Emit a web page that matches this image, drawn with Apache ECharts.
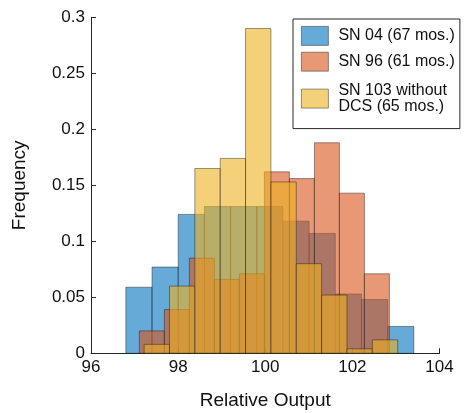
<!DOCTYPE html>
<html>
<head>
<meta charset="utf-8">
<script src="https://cdn.jsdelivr.net/npm/echarts@6/dist/echarts.min.js"></script>
<style>
  html, body { margin: 0; padding: 0; background: #fff; }
  #chart { width: 464px; height: 413px; }
</style>
</head>
<body>
<div id="chart"></div>
<script>
// bin layout for each histogram (first edge, bin width)
var seriesNames = ['SN 04 (67 mos.)', 'SN 96 (61 mos.)', 'SN 103 without\nDCS (65 mos.)'];
var sn04Start = 96.80, sn04Width = 0.601;
var sn96Start = 97.11, sn96Width = 0.574;
var sn103Start = 97.22, sn103Width = 0.582;

// frequencies
var sn04Values = [0.059, 0.077, 0.124, 0.131, 0.131, 0.131, 0.118, 0.107, 0.053, 0.048, 0.024];
var sn96Values = [0.020, 0.039, 0.085, 0.066, 0.071, 0.162, 0.156, 0.188, 0.143, 0.071];
var sn103Values = [0.008, 0.060, 0.165, 0.174, 0.290, 0.153, 0.080, 0.052, 0.004, 0.012];

var xTicks = [96, 98, 100, 102, 104];
var yTicks = [0, 0.05, 0.1, 0.15, 0.2, 0.25, 0.3];

var colors = ['rgba(0,114,189,0.6)', 'rgba(217,83,25,0.6)', 'rgba(237,177,32,0.6)'];
var edge = 'rgba(20,20,20,0.55)';
var font = 'Liberation Sans';

function toBins(start, width, vals) {
  return vals.map(function(v, i) {
    return [start + i * width, start + (i + 1) * width, v];
  });
}

function renderBin(params, api) {
  var p0 = api.coord([api.value(0), api.value(2)]);
  var p1 = api.coord([api.value(1), 0]);
  return {
    type: 'rect',
    shape: { x: p0[0], y: p0[1], width: p1[0] - p0[0], height: p1[1] - p0[1] },
    style: api.style({ fill: colors[params.seriesIndex], stroke: edge, lineWidth: 0.8 })
  };
}

var chart = echarts.init(document.getElementById('chart'));
var bins = [
  toBins(sn04Start, sn04Width, sn04Values),
  toBins(sn96Start, sn96Width, sn96Values),
  toBins(sn103Start, sn103Width, sn103Values)
];

chart.setOption({
  animation: false,
  grid: { left: 91, right: 24.5, top: 17.3, bottom: 59.7, containLabel: false, outerBoundsMode: 'none' },
  legend: {
    orient: 'vertical',
    left: 293,
    top: 19,
    icon: 'rect',
    itemWidth: 27,
    itemHeight: 19,
    itemGap: 6,
    padding: [7, 5, 9, 8],
    borderColor: '#262626',
    borderWidth: 1,
    itemStyle: { borderColor: edge, borderWidth: 0.8 },
    textStyle: { fontFamily: font, fontSize: 16, color: '#111', padding: [0, 0, 0, 5], lineHeight: 16 },
    data: [
      seriesNames[0],
      seriesNames[1],
      { name: seriesNames[2], textStyle: { padding: [10, 0, 0, 5] } }
    ]
  },
  xAxis: {
    type: 'value',
    min: xTicks[0],
    max: xTicks[xTicks.length - 1],
    interval: 2,
    name: 'Relative Output',
    nameLocation: 'middle',
    nameGap: 38,
    nameTextStyle: { fontFamily: font, fontSize: 19, color: '#111' },
    axisLine: { lineStyle: { color: '#262626', width: 1 } },
    axisTick: { inside: true, length: 5, lineStyle: { color: '#262626' } },
    axisLabel: { fontFamily: font, fontSize: 17, color: '#111', margin: 6 },
    splitLine: { show: false }
  },
  yAxis: {
    type: 'value',
    min: yTicks[0],
    max: yTicks[yTicks.length - 1],
    interval: 0.05,
    name: 'Frequency',
    nameLocation: 'middle',
    nameGap: 62,
    nameTextStyle: { fontFamily: font, fontSize: 19, color: '#111' },
    axisLine: { show: true, lineStyle: { color: '#262626', width: 1 } },
    axisTick: { show: true, inside: true, length: 5, lineStyle: { color: '#262626' } },
    axisLabel: {
      fontFamily: font, fontSize: 17, color: '#111', margin: 6,
      formatter: function(v) { return String(parseFloat(v.toFixed(2))); }
    },
    splitLine: { show: false }
  },
  series: bins.map(function(b, i) {
    return {
      type: 'custom',
      name: seriesNames[i],
      renderItem: renderBin,
      itemStyle: { color: colors[i], borderColor: edge, borderWidth: 0.8 },
      encode: { x: [0, 1], y: 2 },
      data: b
    };
  })
});
</script>
</body>
</html>
